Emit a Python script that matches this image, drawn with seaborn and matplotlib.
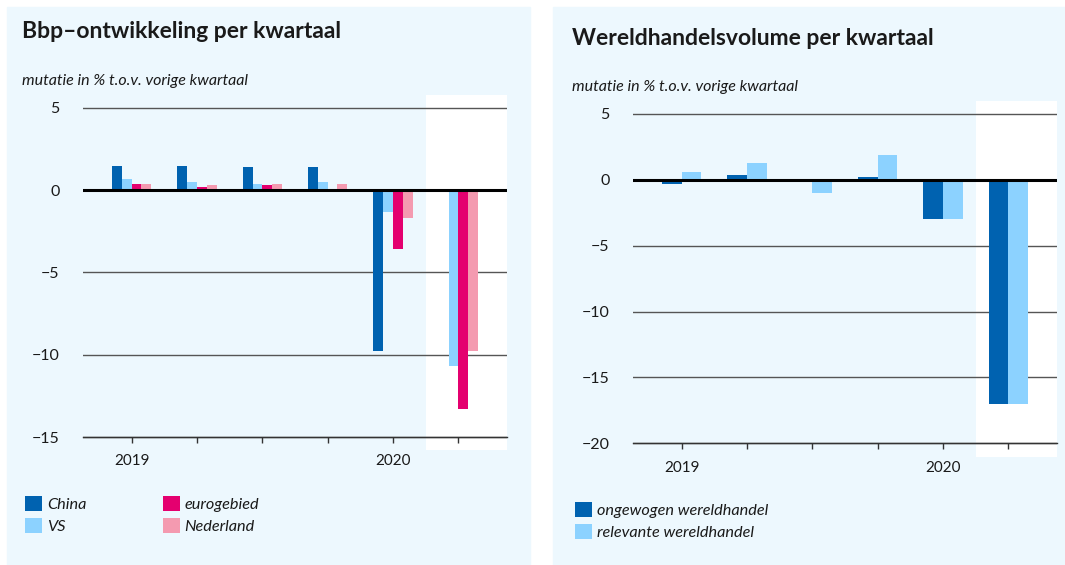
import numpy as np
import pandas as pd
import matplotlib
matplotlib.use('Agg')
import matplotlib.pyplot as plt
from matplotlib.patches import Rectangle
import seaborn as sns

# data
kwartalen = ['2019 K1', '2019 K2', '2019 K3', '2019 K4', '2020 K1', '2020 K2']
tick_labels = ['2019', '', '', '', '2020', '']

china = [1.5, 1.5, 1.4, 1.4, -9.8, np.nan]
vs = [0.7, 0.5, 0.4, 0.5, -1.3, -10.7]
eurogebied = [0.4, 0.2, 0.3, 0.1, -3.6, -13.3]
nederland = [0.4, 0.3, 0.4, 0.4, -1.7, -9.8]

ongewogen = [-0.3, 0.4, 0.0, 0.2, -3.0, -17.0]
relevante = [0.6, 1.3, -1.0, 1.9, -3.0, -17.0]

bbp_series = ['China', 'VS', 'eurogebied', 'Nederland']
wh_series = ['ongewogen wereldhandel', 'relevante wereldhandel']

bbp = pd.DataFrame({'kwartaal': kwartalen * 4,
                    'reeks': np.repeat(bbp_series, len(kwartalen)),
                    'waarde': china + vs + eurogebied + nederland})
wh = pd.DataFrame({'kwartaal': kwartalen * 2,
                   'reeks': np.repeat(wh_series, len(kwartalen)),
                   'waarde': ongewogen + relevante})

bbp_colors = ['#0062B0', '#8CD2FF', '#E4006F', '#F49AB0']
wh_colors = ['#0062B0', '#8CD2FF']

bg = '#EDF8FE'
txt = '#1a1a1a'

plt.rcParams['font.family'] = ['Lato', 'DejaVu Sans']

fig = plt.figure(figsize=(10.65, 5.65), dpi=100)
fig.patch.set_facecolor('white')
fig.patches.append(Rectangle((7 / 1065, 0), 523 / 1065, 558 / 565,
                             transform=fig.transFigure, color=bg, zorder=-10))
fig.patches.append(Rectangle((553 / 1065, 0), 512 / 1065, 558 / 565,
                             transform=fig.transFigure, color=bg, zorder=-10))

ax1 = fig.add_axes([83.3 / 1065, 0.2032, 423.4 / 1065, 0.629])
ax2 = fig.add_axes([633.3 / 1065, 0.192, 423.4 / 1065, 0.6296])


def style_axis(ax, df, series, colors, yticks, ylim, bottom):
    ax.set_facecolor('none')
    sns.barplot(data=df, x='kwartaal', y='waarde', hue='reeks', order=kwartalen,
                hue_order=series, palette=colors, width=0.6, errorbar=None,
                saturation=1, ax=ax, zorder=2)
    handles, labels = ax.get_legend_handles_labels()
    if ax.get_legend() is not None:
        ax.get_legend().remove()
    ax.set_xlim(-0.74, 5.74)
    ax.set_ylim(*ylim)
    ax.axvspan(4.5, 5.74, color='white', zorder=0, lw=0)
    for v in yticks:
        ax.axhline(v, color='#555555', lw=1, zorder=1)
    ax.axhline(0, color='black', lw=2.2, zorder=3)
    for s in ['top', 'right', 'left']:
        ax.spines[s].set_visible(False)
    ax.spines['bottom'].set_position(('data', bottom))
    ax.spines['bottom'].set_color('#333333')
    ax.spines['bottom'].set_linewidth(1)
    ax.set_yticks(yticks)
    ax.set_yticklabels([str(v).replace('-', '\u2212') for v in yticks])
    ax.set_xticks(range(len(kwartalen)))
    ax.set_xticklabels(tick_labels)
    ax.tick_params(axis='y', length=0, pad=17, labelsize=11.5, labelcolor=txt)
    ax.tick_params(axis='x', length=4.5, width=1, color='#333333', pad=8,
                   labelsize=11, labelcolor=txt)
    ax.set_xlabel('')
    ax.set_ylabel('')
    return handles, labels


h1, l1 = style_axis(ax1, bbp, bbp_series, bbp_colors, [5, 0, -5, -10, -15],
                    (-15.8, 5.8), -15)
h2, l2 = style_axis(ax2, wh, wh_series, wh_colors, [5, 0, -5, -10, -15, -20],
                    (-21, 6), -20)

fig.text(22 / 1065, 1 - 38 / 565, 'Bbp\u2013ontwikkeling per kwartaal',
         fontsize=16.5, fontweight='bold', color=txt, va='baseline')
fig.text(22 / 1065, 1 - 85 / 565, 'mutatie in % t.o.v. vorige kwartaal',
         fontsize=11.5, style='italic', color=txt, va='baseline')
fig.text(572 / 1065, 1 - 45 / 565, 'Wereldhandelsvolume per kwartaal',
         fontsize=16.5, fontweight='bold', color=txt, va='baseline')
fig.text(572 / 1065, 1 - 91 / 565, 'mutatie in % t.o.v. vorige kwartaal',
         fontsize=11.5, style='italic', color=txt, va='baseline')

leg_kw = dict(frameon=False, loc='upper left', borderpad=0, borderaxespad=0,
              handlelength=1.05, handleheight=1.05, handletextpad=0.3,
              labelspacing=0.36, prop={'size': 11.7, 'style': 'italic'},
              labelcolor=txt)
fig.legend(h1, l1, ncol=2, columnspacing=4.7,
           bbox_to_anchor=(25 / 1065, 1 - 496 / 565), **leg_kw)
fig.legend(h2, l2, ncol=1,
           bbox_to_anchor=(575 / 1065, 1 - 502 / 565), **leg_kw)

fig.savefig('out.png', dpi=100, facecolor='white')
